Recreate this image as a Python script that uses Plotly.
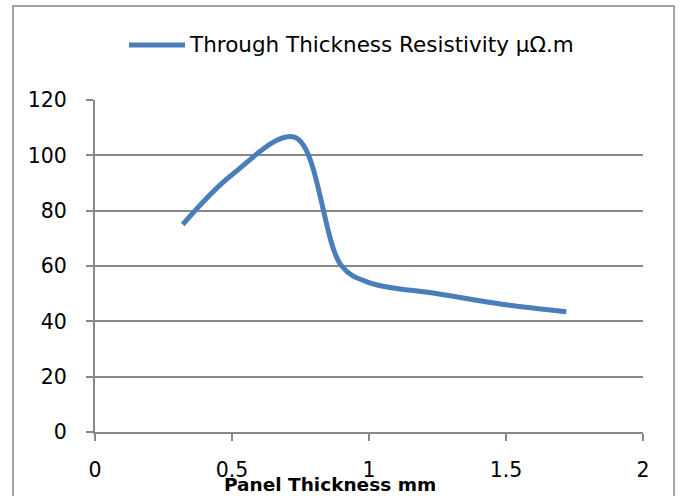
import plotly.graph_objects as go

thickness = [0.32, 0.5, 0.73, 0.9, 1.0, 1.25, 1.5, 1.72]
resistivity = [75, 93, 106.5, 60, 54, 50, 46, 43.5]
series_name = "Through Thickness Resistivity μΩ.m"
x_ticks = [0, 0.5, 1, 1.5, 2]
y_ticks = [0, 20, 40, 60, 80, 100, 120]

W, H = 683, 496
L, R, T, B = 95, 40, 100, 64
pw, ph = W - L - R, H - T - B

def px(x):
    return (x - L) / pw

def py(y):
    return (H - B - y) / ph

color = "#4a7ebb"
FONT = "DejaVu Sans, sans-serif"
fig = go.Figure()
fig.add_trace(go.Scatter(x=thickness, y=resistivity, mode="lines",
                         line=dict(color=color, width=5, shape="spline", smoothing=1.0),
                         name=series_name, showlegend=False))

fig.update_layout(
    width=W, height=H,
    margin=dict(l=L, r=R, t=T, b=B),
    paper_bgcolor="white", plot_bgcolor="white",
    font=dict(family=FONT, size=20.5, color="black"),
    xaxis=dict(range=[0, 2], tickvals=x_ticks, ticktext=[str(v) for v in x_ticks],
               showgrid=False, zeroline=False, showline=True, linecolor="#888888", linewidth=2,
               ticks="outside", ticklen=7, tickcolor="#888888", tickwidth=2, ticklabelstandoff=11),
    yaxis=dict(range=[0, 120], tickvals=y_ticks,
               showgrid=True, gridcolor="#888888", gridwidth=2, zeroline=False,
               showline=True, linecolor="#888888", linewidth=2,
               ticks="outside", ticklen=7, tickcolor="#888888", tickwidth=2, ticklabelstandoff=15),
    shapes=[
        dict(type="rect", xref="paper", yref="paper", x0=px(13), x1=px(674), y0=py(520), y1=py(6),
             line=dict(color="#888888", width=1.5), fillcolor="rgba(0,0,0,0)", layer="below"),
        dict(type="line", xref="paper", yref="paper", x0=px(129), x1=px(185), y0=py(45), y1=py(45),
             line=dict(color=color, width=5)),
    ],
    annotations=[
        dict(text=series_name, xref="paper", yref="paper", x=px(187), y=py(45),
             xanchor="left", yanchor="middle", showarrow=False,
             font=dict(family=FONT, size=21.5)),
        dict(text="<b>Panel Thickness mm</b>", xref="paper", yref="paper", x=px(330), y=py(484),
             xanchor="center", yanchor="middle", showarrow=False,
             font=dict(family=FONT, size=18.5)),
    ],
)
fig.write_html("out.html")
